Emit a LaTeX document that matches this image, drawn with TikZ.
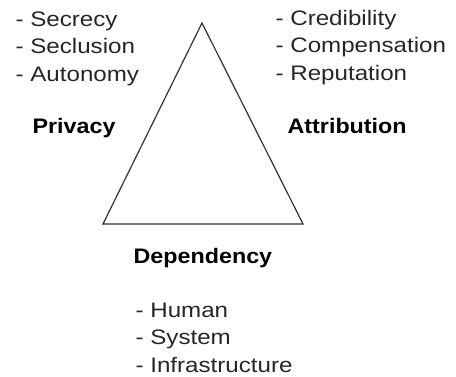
\documentclass[tikz,border=0pt]{standalone}
\usepackage{fontspec}
\setmainfont{Liberation Sans}[FakeStretch=1.15,BoldFeatures={FakeStretch=1.11}]
\usepackage{tikz}

\tikzset{
  item/.style={anchor=base west,inner sep=0pt,text=black!85},
  corner/.style={anchor=base west,inner sep=0pt,font=\bfseries}
}

\begin{document}
\begin{tikzpicture}
[x=1pt,y=-1pt,line width=1.2pt,line join=miter]
\fontsize{21}{25}\selectfont
\useasboundingbox (0,0) rectangle (456,376);

% the triangle
\coordinate (apex) at (202,23);
\coordinate (baseL) at (103,224);
\coordinate (baseR) at (303,224);
\draw[black!80] (apex) -- (baseL) -- (baseR) -- cycle;

% privacy
\node[item] (secrecy)   at (15,26)   {- Secrecy};
\node[item] (seclusion) at (15,53.5) {- Seclusion};
\node[item] (autonomy)  at (15,81)   {- Autonomy};
\node[corner] (privacy) at (32,133)  {Privacy};

% attribution
\node[item] (credibility)  at (275,25)   {- Credibility};
\node[item] (compensation) at (275,52.5) {- Compensation};
\node[item] (reputation)   at (275,80)   {- Reputation};
\node[corner] (attribution) at (287,133) {Attribution};

% dependency
\node[corner] (dependency) at (133,263) {Dependency};
\node[item] (human)  at (135,317) {- Human};
\node[item] (system) at (135,344.5) {- System};
\node[item] (infra)  at (135,372) {- Infrastructure};
\end{tikzpicture}
\end{document}
